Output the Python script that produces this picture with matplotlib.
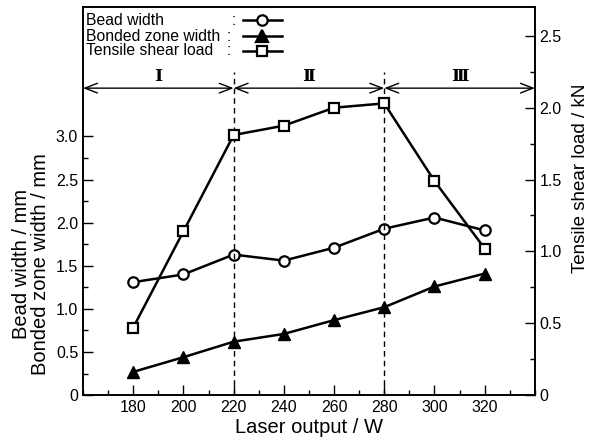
import matplotlib
matplotlib.use("Agg")
import matplotlib.pyplot as plt
from matplotlib.ticker import MultipleLocator, FuncFormatter

plt.rcParams['font.family'] = ['Liberation Sans', 'DejaVu Sans']

# data
laser_w = [180, 200, 220, 240, 260, 280, 300, 320]
bead_width = [1.31, 1.40, 1.63, 1.56, 1.71, 1.93, 2.06, 1.91]
bonded_width = [0.27, 0.44, 0.62, 0.71, 0.87, 1.02, 1.26, 1.41]
shear_load = [0.47, 1.14, 1.81, 1.875, 2.00, 2.03, 1.49, 1.02]

region_edges = [160, 220, 280, 340]
region_labels = ["Ⅰ", "Ⅱ", "Ⅲ"]
legend_names = ["Bead width", "Bonded zone width", "Tensile shear load"]

fig = plt.figure(figsize=(5.93, 4.43), dpi=100)
ax = fig.add_axes([0.140, 0.108, 0.762, 0.876])
ax2 = ax.twinx()

ax.set_xlim(160, 340)
ax.set_ylim(0, 4.5)
ax2.set_ylim(0, 2.7)

kw = dict(color="black", lw=1.8, mfc="white", mec="black", mew=1.6, ms=7.5)
l1, = ax.plot(laser_w, bead_width, marker="o", **kw)
l2, = ax.plot(laser_w, bonded_width, marker="^", color="black", lw=1.8,
              mfc="black", mec="black", ms=8)
l3, = ax2.plot(laser_w, shear_load, marker="s", **kw)

# region dividers and arrows
for xv in region_edges[1:-1]:
    ax.plot([xv, xv], [0, 3.75], color="black", lw=1.0, ls=(0, (4, 3)))
for i, lab in enumerate(region_labels):
    x0, x1 = region_edges[i], region_edges[i + 1]
    ax.annotate("", xy=(x0, 3.56), xytext=(x1, 3.56),
                arrowprops=dict(arrowstyle="<->,head_length=0.9,head_width=0.35",
                                color="black", lw=1.0, shrinkA=0, shrinkB=0))
    ax.text((x0 + x1) / 2, 3.60, lab, ha="center", va="bottom", fontsize=12.5,
            fontweight="bold", family=["DejaVu Serif", "Noto Sans CJK JP"])

# ticks
ax.set_xticks(laser_w)
ax.xaxis.set_minor_locator(MultipleLocator(10))
ax.set_yticks([0, 0.5, 1.0, 1.5, 2.0, 2.5, 3.0])
ax.set_yticks([0.25 * k for k in range(13)], minor=True)
ax2.set_yticks([0, 0.5, 1.0, 1.5, 2.0, 2.5])
ax2.set_yticks([0.25 * k for k in range(11)], minor=True)
fmt = FuncFormatter(lambda v, p: "0" if v == 0 else f"{v:.1f}")
ax.yaxis.set_major_formatter(fmt)
ax2.yaxis.set_major_formatter(fmt)
for a in (ax, ax2):
    a.tick_params(which="both", direction="in", labelsize=11.5, width=1.0)
    a.tick_params(which="major", length=7)
    a.tick_params(which="minor", length=3.5)
ax.tick_params(axis="y", right=False, which="both")
ax.tick_params(axis="x", top=False, which="both")
ax2.tick_params(axis="x", top=False, which="both")
for s in ax.spines.values():
    s.set_linewidth(1.2)
for s in ax2.spines.values():
    s.set_linewidth(1.2)

ax.set_xlabel("Laser output / W", fontsize=14.5, labelpad=2)
ax.set_ylabel("Bead width / mm\nBonded zone width / mm", fontsize=14.5,
              linespacing=1.0)
ax.yaxis.set_label_coords(-0.072, 0.338)
ax2.set_ylabel("Tensile shear load / kN", fontsize=13.5)
ax2.yaxis.set_label_coords(1.083, 0.56)

# legend drawn as text with sample lines
leg_y = [0.966, 0.925, 0.887]
colon_x = [0.328, 0.318, 0.318]
handles = [("o", "white", 7.5), ("^", "black", 8), ("s", "white", 7.5)]
for name, y, cx, (m, fc, ms) in zip(legend_names, leg_y, colon_x, handles):
    ax.text(0.006, y, name, transform=ax.transAxes, fontsize=11.3,
            ha="left", va="center")
    ax.text(cx, y, ":", transform=ax.transAxes, fontsize=11.3, ha="left", va="center")
    ax.plot([0.354, 0.44], [y, y], transform=ax.transAxes, color="black", lw=1.8,
            clip_on=False)
    ax.plot([0.396], [y], transform=ax.transAxes, marker=m, mfc=fc, mec="black",
            mew=1.6, ms=ms, color="black", clip_on=False)

fig.savefig("out.png", dpi=100)
